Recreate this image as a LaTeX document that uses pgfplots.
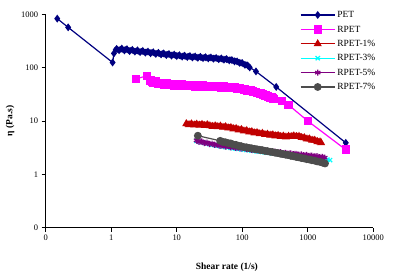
\documentclass[border=0pt]{standalone}
\usepackage{fontspec}
\setmainfont{Liberation Serif}
\usepackage{pgfplots}
\pgfplotsset{compat=1.18}
\definecolor{petblue}{RGB}{0,0,128}
\definecolor{rpetmag}{RGB}{255,0,255}
\definecolor{rpetred}{RGB}{192,0,0}
\definecolor{rpetcyan}{RGB}{0,255,255}
\definecolor{rpetpurple}{RGB}{128,0,128}
\definecolor{rpetgray}{RGB}{77,77,77}
\begin{document}
\begin{tikzpicture}
\path[use as bounding box] (0,0) rectangle (396bp,276bp);
\begin{axis}[
  at={(45.7bp,48.3bp)}, anchor=south west,
  scale only axis, width=327.6bp, height=213.4bp,
  xmode=log, ymode=log,
  xmin=0.1, xmax=10000, ymin=0.1, ymax=1000,
  axis lines=left, axis line style={-, line width=1bp, black},
  xtick={0.1,1,10,100,1000,10000}, xticklabels={0,1,10,100,1000,10000},
  ytick={0.1,1,10,100,1000}, yticklabels={0,1,10,100,1000},
  xminorticks=false, yminorticks=false,
  tick align=outside, major tick length=4bp,
  tick style={black, line width=1bp},
  /pgf/number format/assume math mode=true,
  ticklabel style={font=\fontsize{8.5}{10}\selectfont},
  xlabel={\textbf{Shear rate (1/s)}}, ylabel={\textbf{η (Pa.s)}},
  label style={font=\fontsize{9.5}{11}\selectfont},
  xlabel style={at={(axis description cs:0.553,-0.183)}, anchor=center},
  ylabel style={at={(axis description cs:-0.109,0.5)}, anchor=center},
  legend style={at={(axis description cs:0.776,1.02)}, anchor=north west,
    draw=none, fill=none, inner sep=0pt, row sep=4.9bp,
    font=\fontsize{9.5}{11}\selectfont,
    nodes={inner ysep=0bp, inner xsep=2bp, text height=7.5bp, text depth=2bp}},
  legend cell align=left,
  legend image code/.code={\draw[mark repeat=2,mark phase=2,#1] plot coordinates {(0bp,0bp) (17bp,0bp) (34bp,0bp)};},
  clip=false,
]
% PET
\addplot[color=petblue, line width=1.2bp, mark=diamond*, mark size=3bp, mark options={solid}] coordinates {
(0.15,830) (0.22,570) (1.05,125)
(1.10,185) (1.21,225) (1.32,212) (1.45,228) (1.59,210) (1.74,222) (1.91,204) (2.10,216)
(2.30,200) (2.52,211) (2.76,196) (3.03,206) (3.32,191) (3.64,200) (3.99,186) (4.38,195)
(4.80,181) (5.26,190) (5.77,177) (6.33,185) (6.94,172) (7.61,180) (8.34,168) (9.15,176)
(10.0,165) (11.0,171) (12.1,161) (13.2,168) (14.5,158) (15.9,165) (17.4,155) (19.1,162)
(21.0,153) (23.0,160) (25.2,151) (27.6,157) (30.3,149) (33.2,155) (36.4,147) (39.9,152)
(43.8,144) (48.0,149) (52.6,141) (57.7,145) (63.3,137) (69.4,139) (76.1,131) (83.4,131)
(91.5,123) (100,122) (110,113) (121,110) (130,101)
(162,85) (330,43.5) (3800,3.9)
};
\addlegendentry{PET}
\addplot[forget plot, only marks, color=petblue, mark=diamond*, mark size=3bp] coordinates {
(1.15,215) (1.26,218) (1.38,222) (1.52,215) (1.66,219) (1.82,210) (2.0,212) (2.2,206)
(2.41,207) (2.64,201) (2.89,203) (3.17,196) (3.48,197) (3.81,192) (4.18,193) (4.59,186)
(5.02,188) (5.51,182) (6.04,184) (6.63,177) (7.27,179) (7.97,172) (8.74,174) (9.57,169)
(10.5,170) (11.5,164) (12.6,167) (13.8,161) (15.2,164) (16.6,158) (18.2,161) (20,156)
(22,159) (24.1,154) (26.4,156) (28.9,152) (31.7,154) (34.8,150) (38.1,151) (41.8,147)
(45.9,148) (50.2,144) (55.1,145) (60.4,140) (66.3,140) (72.7,134) (79.7,133) (87.4,126)
(95.7,124) (105,117) (115,113) (125,105)
};
% RPET
\addplot[color=rpetmag, line width=1.2bp, mark=square*, mark size=3.6bp, mark options={solid}] coordinates {
(2.4,62) (3.5,70)
(4.0,57) (4.39,52) (4.81,55) (5.27,50) (5.78,52) (6.34,48.5) (6.95,50.5) (7.62,47.5)
(8.36,49.5) (9.16,46.5) (10.0,48.5) (11.0,46) (12.1,48) (13.3,45.5) (14.5,47.5) (15.9,45)
(17.5,47) (19.2,44.5) (21.0,46.5) (23.0,44) (25.3,46) (27.7,43.5) (30.4,45.5) (33.3,43.5)
(36.5,45) (40.1,43) (43.9,44.5) (48.2,42.5) (52.8,44) (57.9,42) (63.5,43.5) (69.6,41.5)
(76.4,42.5) (83.7,40.5) (91.8,41.5) (101,39.5) (110,39.5) (121,37.5) (133,37.5) (146,35.5)
(160,35) (175,33.5) (192,32.5) (211,31) (231,30) (253,28.5) (278,27.5) (300,26)
(404,24) (509,20) (1000,10) (3800,2.9)
};
\addlegendentry{RPET}
\addplot[forget plot, only marks, color=rpetmag, mark=square*, mark size=3.6bp] coordinates {
(4.2,54) (4.6,53) (5.04,52) (5.52,51) (6.06,50.5) (6.64,49.5) (7.28,49) (7.99,48.5)
(8.75,48) (9.58,47.5) (10.5,47) (11.5,47) (12.7,46.5) (13.9,46.5) (15.2,46) (16.7,46)
(18.3,45.5) (20.1,45.5) (22,45) (24.1,45) (26.5,44.5) (29,44.5) (31.8,44.5) (34.9,44)
(38.3,44) (42,43.5) (46,43.5) (50.5,43) (55.3,43) (60.7,42.5) (66.5,42.5) (73,41.5)
(80,41.5) (87.7,40.5) (96.3,40.5) (105,39.5) (115,38.5) (127,37.5) (139,36.5) (153,35.5)
(167,34.5) (183,33) (201,32) (221,30.5) (242,29.5) (265,28) (289,27)
};
% RPET-1%
\addplot[color=rpetred, line width=1.2bp, mark=triangle*, mark size=3.5bp, mark options={solid}] coordinates {
(14,8.9) (15.4,8.5) (16.8,8.8) (18.5,8.4) (20.2,8.7) (22.2,8.3) (24.3,8.6) (26.7,8.2)
(29.2,8.5) (32.1,8.1) (35.2,7.9) (38.6,8.1) (42.3,7.8) (46.4,8.0) (50.9,7.6) (55.8,7.8)
(61.2,7.4) (67.1,7.5) (73.5,7.1) (80.6,7.2) (88.4,6.8) (96.9,6.9) (106,6.5) (117,6.6)
(128,6.2) (140,6.3) (154,5.95) (168,6.05) (185,5.75) (203,5.85) (222,5.55) (243,5.65)
(267,5.4) (293,5.5) (321,5.25) (352,5.35) (386,5.1) (423,5.2) (464,5.0) (509,5.15)
(558,5.1) (612,5.25) (671,5.1) (735,5.15) (806,4.9) (884,4.85) (970,4.6) (1063,4.6)
(1166,4.35) (1278,4.35) (1402,4.1) (1537,4.05) (1600,3.9)
};
\addlegendentry{RPET-1\%}
\addplot[forget plot, only marks, color=rpetred, mark=triangle*, mark size=3.5bp] coordinates {
(14.7,8.65) (16.1,8.65) (17.6,8.6) (19.3,8.55) (21.2,8.5) (23.2,8.45) (25.5,8.4) (27.9,8.35)
(30.6,8.3) (33.6,8.0) (36.9,8.0) (40.4,7.95) (44.3,7.9) (48.6,7.8) (53.3,7.7) (58.5,7.6)
(64.1,7.45) (70.3,7.3) (77,7.15) (84.4,7.0) (92.6,6.85) (101,6.7) (111,6.55) (122,6.4)
(134,6.25) (147,6.1) (161,6.0) (176,5.9) (194,5.8) (212,5.7) (232,5.6) (255,5.52)
(280,5.45) (307,5.37) (336,5.3) (369,5.22) (404,5.15) (443,5.1) (486,5.07) (533,5.12)
(585,5.17) (641,5.17) (703,5.12) (770,5.02) (845,4.87) (927,4.72) (1016,4.6) (1114,4.47)
(1221,4.35) (1339,4.22) (1468,4.07)
};
% RPET-3%
\addplot[color=rpetcyan, line width=1.2bp, mark=x, mark size=3bp, mark options={solid}] coordinates {
(20,4.25) (21.9,4.1) (24.0,4.0) (26.3,3.9) (28.9,3.8) (31.7,3.68) (34.7,3.62) (38.1,3.52)
(41.7,3.48) (45.8,3.38) (50.2,3.34) (55.0,3.26) (60.3,3.22) (66.2,3.15) (72.5,3.11) (79.5,3.05)
(87.2,3.01) (95.6,2.96) (105,2.92) (115,2.87) (126,2.84) (138,2.79) (151,2.76) (166,2.71)
(182,2.68) (200,2.63) (219,2.6) (240,2.56) (263,2.53) (288,2.49) (316,2.46) (347,2.42)
(380,2.39) (417,2.35) (457,2.32) (501,2.29) (549,2.26) (602,2.22) (660,2.2) (724,2.16)
(794,2.14) (870,2.1) (954,2.08) (1046,2.04) (1147,2.02) (1258,1.99) (1379,1.97) (1512,1.94)
(1658,1.92) (1818,1.9) (1993,1.88) (2185,1.85)
};
\addlegendentry{RPET-3\%}
% RPET-5%
\addplot[color=rpetpurple, line width=1.2bp, mark=asterisk, mark size=3bp, mark options={solid}] coordinates {
(20,4.35) (21.9,4.05) (24.0,4.15) (26.3,3.85) (28.9,3.95) (31.7,3.7) (34.7,3.78) (38.1,3.55)
(41.7,3.62) (45.8,3.42) (50.2,3.5) (55.0,3.32) (60.3,3.4) (66.2,3.22) (72.5,3.28) (79.5,3.12)
(87.2,3.18) (95.6,3.04) (105,3.1) (115,2.96) (126,3.0) (138,2.88) (151,2.92) (166,2.8)
(182,2.84) (200,2.74) (219,2.78) (240,2.68) (263,2.72) (288,2.62) (316,2.66) (347,2.57)
(380,2.6) (417,2.51) (457,2.54) (501,2.45) (549,2.48) (602,2.4) (660,2.43) (724,2.34)
(794,2.37) (870,2.29) (954,2.31) (1046,2.23) (1147,2.25) (1258,2.17) (1379,2.19) (1512,2.11)
(1658,2.12) (1818,2.05)
};
\addlegendentry{RPET-5\%}
\addplot[forget plot, only marks, color=rpetpurple, mark=asterisk, mark size=3bp] coordinates {
(20.9,4.2) (22.9,4.1) (25.1,4.0) (27.6,3.9) (30.3,3.82) (33.2,3.74) (36.4,3.66) (39.9,3.58)
(43.7,3.52) (48,3.46) (52.6,3.41) (57.6,3.36) (63.2,3.31) (69.3,3.25) (76,3.2) (83.3,3.15)
(91.4,3.11) (100,3.07) (110,3.03) (120,2.98) (132,2.94) (144,2.9) (158,2.86) (174,2.82)
(191,2.79) (209,2.76) (229,2.73) (251,2.7) (275,2.67) (302,2.64) (331,2.61) (363,2.58)
(398,2.55) (437,2.52) (479,2.49) (525,2.46) (575,2.44) (631,2.41) (692,2.38) (759,2.35)
(832,2.33) (912,2.3) (1000,2.27) (1096,2.24) (1202,2.21) (1318,2.18) (1445,2.15) (1585,2.12)
(1738,2.08)
};
% RPET-7%
\addplot[color=rpetgray, line width=1.2bp, mark=*, mark size=3.3bp, mark options={solid}] coordinates {
(21,5.3)
(46,4.25) (50.4,4.05) (55.3,4.0) (60.7,3.85) (66.5,3.8) (72.9,3.62) (79.9,3.58) (87.7,3.42)
(96.1,3.38) (105,3.25) (116,3.22) (127,3.12) (139,3.08) (152,3.0) (167,2.96) (183,2.88)
(201,2.85) (220,2.76) (241,2.73) (265,2.65) (290,2.62) (318,2.54) (349,2.51) (383,2.43)
(420,2.40) (460,2.33) (505,2.30) (553,2.22) (607,2.19) (665,2.12) (729,2.09) (800,2.02)
(877,1.99) (961,1.93) (1054,1.90) (1156,1.84) (1267,1.81) (1390,1.75) (1524,1.72) (1671,1.66)
(1832,1.60)
};
\addlegendentry{RPET-7\%}
\addplot[forget plot, only marks, color=rpetgray, mark=*, mark size=3.3bp] coordinates {
(48.2,4.15) (52.8,4.02) (58,3.92) (63.6,3.82) (69.7,3.71) (76.4,3.6) (83.8,3.5) (91.9,3.4)
(100.5,3.31) (110,3.23) (121,3.17) (133,3.1) (145,3.04) (159,2.98) (175,2.92) (192,2.86)
(210,2.8) (230,2.74) (253,2.69) (277,2.63) (304,2.58) (333,2.52) (366,2.47) (401,2.41)
(440,2.36) (482,2.31) (529,2.26) (580,2.2) (636,2.15) (697,2.1) (764,2.05) (838,2.0)
(919,1.96) (1007,1.91) (1105,1.87) (1211,1.82) (1328,1.78) (1457,1.73) (1597,1.69) (1751,1.63)
};
\end{axis}
\end{tikzpicture}
\end{document}
